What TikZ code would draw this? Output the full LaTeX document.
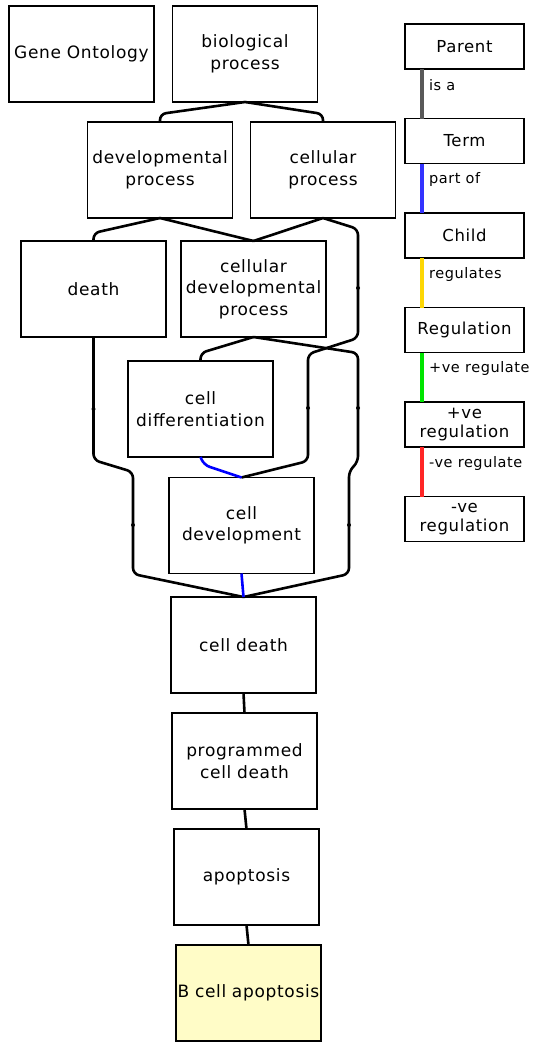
\documentclass[tikz,border=0pt]{standalone}
\usepackage{fontspec}
\setmainfont{DejaVu Sans}[LetterSpace=4]
\usepackage{tikz}
\usetikzlibrary{positioning,calc}

\begin{document}
\begin{tikzpicture}[
    x=1pt, y=1pt,
    node distance=20pt,
    term/.style={draw, line width=1.7pt, inner sep=0pt, outer sep=0pt, text width=145pt, minimum height=96pt, align=center, font=\fontsize{17}{21.5}\selectfont},
    focus/.style={term, fill=yellow!22},
    key/.style={draw, line width=1.7pt, inner sep=0pt, outer sep=0pt, text width=119pt, minimum height=45pt, align=center, font=\fontsize{16.5}{19}\selectfont},
    link/.style={line width=2.6pt, rounded corners=6pt},
    partof/.style={link, blue},
    keyline/.style={line width=3.5pt},
    tag/.style={text=black, font=\fontsize{14.5}{18}\selectfont},
]
    \useasboundingbox (0,0) rectangle (534,-1045);

    % ontology terms
    \node[term] (ontology) at (81.5,-54) {Gene Ontology};
    \node[term] (bioproc) at (245,-54) {biological\\process};
    \node[term] (devproc) at (160,-170) {developmental\\process};
    \node[term] (cellproc) at (323,-170) {cellular\\process};
    \node[term] (death) at (93.5,-289) {death};
    \node[term] (celldevproc) at (253.5,-289) {cellular\\developmental\\process};
    \node[term] (celldiff) at (200.5,-409) {cell\\differentiation};
    \node[term] (celldev) at (241.5,-525.5) {cell\\development};
    \node[term, below=23.5pt of celldev, xshift=2pt] (celldeath) {cell death};
    \node[term, below=of celldeath, xshift=1pt] (pcd) {programmed\\cell death};
    \node[term, below=of pcd, xshift=2pt] (apoptosis) {apoptosis};
    \node[focus, below=of apoptosis, xshift=2pt] (bcellapop) {B cell apoptosis};

    % is a / part of links
    \draw[link] (bioproc.south) -- ($(devproc.north)+(0,8)$) -- (devproc.north);
    \draw[link] (bioproc.south) -- ($(cellproc.north)+(0,8)$) -- (cellproc.north);
    \draw[link] (devproc.south) -- ($(death.north)+(0,8)$) -- (death.north);
    \draw[link] (devproc.south) -- (celldevproc.north);
    \draw[link] (cellproc.south) -- (celldevproc.north);
    \draw[link] (cellproc.south) -- (358,-229) -- (358,-338) -- (308,-354) -- (308,-461) -- (celldev.north);
    \draw[link] (celldevproc.south) -- ($(celldiff.north)+(0,8)$) -- (celldiff.north);
    \draw[link] (celldevproc.south) -- (358,-353) -- (358,-462) -- (349,-471) -- (349,-574) -- (celldeath.north);
    \draw[link] (death.south) -- (93.5,-460) -- (133,-472) -- (133,-574) -- (celldeath.north);
    \draw[partof] (celldiff.south) -- (204,-465) -- (celldev.north);
    \draw[partof] (celldev.south) -- (celldeath.north);
    \draw[link] (celldeath.south) -- (pcd.north);
    \draw[link] (pcd.south) -- (apoptosis.north);
    \draw[link] (apoptosis.south) -- (bcellapop.north);
    \foreach \p in {(358,-288),(93.5,-409),(308,-408),(358,-408),(133,-525),(349,-525)}
        \fill \p circle (2pt);

    % key
    \node[key] (parent) at (464.5,-46.5) {Parent};
    \node[key, below=49.5pt of parent] (termkey) {Term};
    \node[key, below=49.5pt of termkey] (child) {Child};
    \node[key, below=49.5pt of child] (regulation) {Regulation};
    \node[key, below=49.5pt of regulation] (posreg) {+ve\\regulation};
    \node[key, below=49.5pt of posreg] (negreg) {-ve\\regulation};

    \draw[keyline, black!65] ($(parent.south west)+(17,0)$) -- ($(termkey.north west)+(17,0)$)
        node[tag, pos=0.33, right=2pt] (isa) {is a};
    \draw[keyline, blue!80] ($(termkey.south west)+(17,0)$) -- ($(child.north west)+(17,0)$)
        node[tag, pos=0.33, right=2pt] (partoftag) {part of};
    \draw[keyline, yellow!75!orange] ($(child.south west)+(17,0)$) -- ($(regulation.north west)+(17,0)$)
        node[tag, pos=0.33, right=2pt] (regtag) {regulates};
    \draw[keyline, green!90!black] ($(regulation.south west)+(17,0)$) -- ($(posreg.north west)+(17,0)$)
        node[tag, pos=0.33, right=2pt] (postag) {+ve regulate};
    \draw[keyline, red!85] ($(posreg.south west)+(17,0)$) -- ($(negreg.north west)+(17,0)$)
        node[tag, pos=0.33, right=2pt] (negtag) {-ve regulate};
\end{tikzpicture}
\end{document}
